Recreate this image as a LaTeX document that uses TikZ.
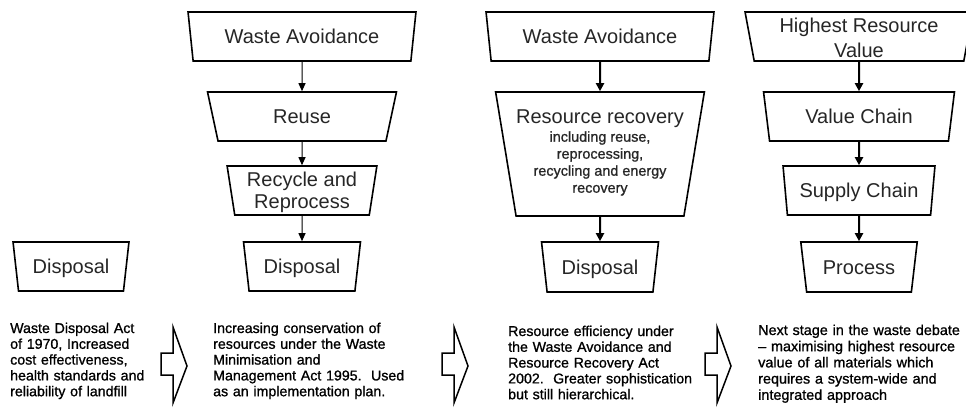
\documentclass[tikz,border=0pt]{standalone}
\usepackage{fontspec}
\setmainfont{Liberation Sans}
\newfontfamily\parafont[FakeBold=1]{Liberation Sans}
\usetikzlibrary{shapes.geometric,arrows.meta}
\definecolor{labelgray}{HTML}{262626}
\begin{document}
\begin{tikzpicture}[x=1pt,y=-1pt,
  trap/.style={shape=trapezium, trapezium angle=76, shape border rotate=180,
    trapezium stretches=true, draw=black, line width=1.6pt, inner sep=0pt,
    minimum height=49pt, text=labelgray, font=\fontsize{20}{22}\selectfont,
    text height=14.5pt, text depth=0pt},
  para/.style={anchor=base west, inner sep=0pt, text width=240pt, align=left,
    font=\parafont\fontsize{14.2}{15.8}\selectfont},
  thinarrow/.style={line width=1pt, -{Triangle[width=7pt,length=8pt]}},
  thickarrow/.style={line width=2pt, -{Triangle[width=8pt,length=8pt]}},
  hollow/.style={line width=1.5pt, line join=miter}
]
\useasboundingbox (0,0) rectangle (966,412);
\clip (0,0) rectangle (966,412);

% column 1
\node[trap, minimum width=116pt, trapezium angle=74.5] (d1) at (71,266.5) {Disposal};

% column 2
\node[trap, minimum width=228pt] (wa2) at (302,36.5) {Waste Avoidance};
\node[trap, minimum width=190pt] (re2) at (302,116.5) {Reuse};
\node[trap, minimum width=150pt, text height=8pt, text depth=17pt] (rr2) at (302,190.5)
  {\fontsize{20}{22.3}\selectfont\begin{tabular}[t]{@{}c@{}}Recycle and\\Reprocess\end{tabular}};
\node[trap, minimum width=117pt, trapezium angle=74.5] (d2) at (302,266.5) {Disposal};

% column 3
\node[trap, minimum width=228pt] (wa3) at (600,36.5) {Waste Avoidance};
\node[trap, minimum width=190pt, minimum height=124pt, text height=10pt, text depth=72pt] (rc3) at (600,154)
  {\parafont\fontsize{14.4}{17}\selectfont\begin{tabular}[t]{@{}c@{}}{\normalfont\fontsize{20}{22}\selectfont Resource recovery}\\[1.7pt]
   including reuse,\\ reprocessing,\\ recycling and energy\\ recovery\end{tabular}};
\node[trap, minimum width=117pt, minimum height=50pt, trapezium angle=74.5] (d3) at (600,267) {Disposal};

% column 4
\node[trap, minimum width=228pt, text height=10pt, text depth=17.8pt] (hv4) at (859,36.5)
  {\fontsize{20}{25}\selectfont\begin{tabular}[t]{@{}c@{}}Highest Resource\\Value\end{tabular}};
\node[trap, minimum width=191pt] (vc4) at (859,116.5) {Value Chain};
\node[trap, minimum width=152pt] (sc4) at (859,190.5) {Supply Chain};
\node[trap, minimum width=117pt, minimum height=50pt, trapezium angle=74.5] (p4) at (859,267) {Process};

% connectors
\draw[thinarrow] (wa2) -- (re2);
\draw[thinarrow] (re2) -- (rr2);
\draw[thinarrow] (rr2) -- (d2);
\draw[thickarrow] (wa3) -- (rc3);
\draw[thickarrow] (rc3) -- (d3);
\draw[thickarrow] (hv4) -- (vc4);
\draw[thickarrow] (vc4) -- (sc4);
\draw[thickarrow] (sc4) -- (p4);

% hollow block arrows
\foreach \dx in {0,281,544}{
  \draw[hollow] (161+\dx,353) -- (173+\dx,353) -- (173+\dx,327) -- (187+\dx,366)
    -- (173+\dx,403) -- (173+\dx,375) -- (161+\dx,375) -- cycle;
}

% paragraphs
\node[para] (t1) at (10,333) {Waste Disposal Act\\of 1970, Increased\\cost effectiveness,\\health standards and\\reliability of landfill};
\node[para] (t2) at (213,333) {Increasing conservation of\\resources under the Waste\\Minimisation and\\Management Act 1995.~~Used\\as an implementation plan.};
\node[para] (t3) at (508,336) {Resource efficiency under\\the Waste Avoidance and\\Resource Recovery Act\\2002.~~Greater sophistication\\but still hierarchical.};
\node[para, font=\parafont\fontsize{14.4}{16.2}\selectfont] (t4) at (758,335) {Next stage in the waste debate\\– maximising highest resource\\value of all materials which\\requires a system-wide and\\integrated approach};
\end{tikzpicture}
\end{document}
